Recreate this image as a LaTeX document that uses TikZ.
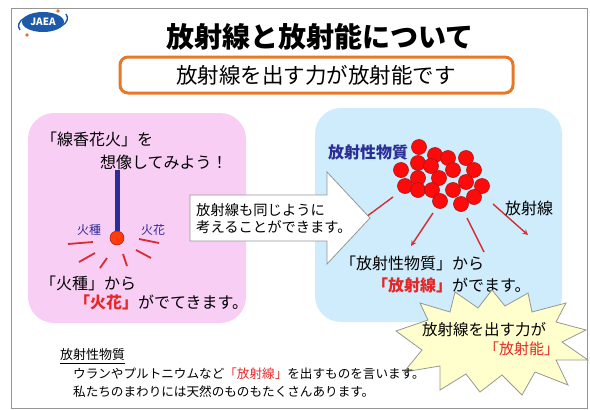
\documentclass[tikz,border=0pt]{standalone}
\usepackage{fontspec}
\setmainfont{Noto Sans CJK JP}
\usetikzlibrary{arrows}

\definecolor{pinkbg}{RGB}{249,206,245}
\definecolor{bluebg}{RGB}{206,236,251}
\definecolor{framegray}{RGB}{150,150,150}
\definecolor{boxorange}{RGB}{230,120,40}
\definecolor{navy}{RGB}{45,45,150}
\definecolor{textred}{RGB}{228,40,40}
\definecolor{linered}{RGB}{215,45,50}
\definecolor{ballred}{RGB}{255,10,10}
\definecolor{balledge}{RGB}{170,20,20}
\definecolor{sparkred}{RGB}{255,60,10}
\definecolor{starfill}{RGB}{255,255,205}
\definecolor{logoblue}{RGB}{30,90,170}
\definecolor{logoorange}{RGB}{235,110,50}

\tikzset{
  txt/.style={anchor=west, inner sep=0pt},
  big/.style={txt, font=\fontsize{16}{16}\selectfont},
  small/.style={txt, font=\fontsize{12.6}{12.6}\selectfont},
  ball/.style={fill=ballred, draw=balledge, line width=.6pt},
  ray/.style={linered, line width=1.4pt},
  spark/.style={linered, line width=1.8pt},
}
\newcommand{\hot}[1]{\textcolor{textred}{\bfseries #1}}

\begin{document}
\begin{tikzpicture}[x=1pt,y=-1pt]
  \useasboundingbox (0,0) rectangle (590,410);
  \draw[framegray, line width=.6pt] (11,8) rectangle (587,408);

  % logo
  \fill[logoblue] (43,22) ellipse (21pt and 10pt);
  \draw[logoblue, line width=1.4pt] (20,30) arc (200:100:24pt and 12pt);
  \draw[logoblue, line width=1.4pt] (66,14) arc (20:-80:24pt and 12pt);
  \fill[logoorange] (58,11) circle (1.8pt);
  \fill[logoorange] (27,35) circle (1.8pt);
  \node[white, font=\bfseries\fontsize{10}{10}\selectfont] (logo) at (43,22) {JAEA};

  % title and key sentence
  \node[font=\bfseries\fontsize{28}{28}\selectfont] (title) at (320,37) {放射線と放射能について};
  \draw[boxorange, line width=3pt, rounded corners=8pt] (120,57) rectangle (513,93);
  \node[font=\fontsize{21.5}{21.5}\selectfont] (key) at (316,75) {放射線を出す力が放射能です};

  % two panels
  \fill[pinkbg, rounded corners=26pt] (28,113) rectangle (246,323);
  \fill[bluebg, rounded corners=26pt] (315,108) rectangle (562,322);

  % senko hanabi
  \node[big] (imagine1) at (41,139) {「線香花火」を};
  \node[big] (imagine2) at (100,162) {想像してみよう！};
  \coordinate (sticktop) at (117,170);
  \node[circle, fill=sparkred, draw=balledge, line width=.5pt, minimum size=14pt, inner sep=0pt] (hidane) at (117,238) {};
  \draw[navy, line width=5pt] (sticktop) -- (hidane.north);
  \node[small, navy, font=\fontsize{12}{12}\selectfont] (hidanelbl) at (77,230) {火種};
  \node[small, navy, font=\fontsize{12}{12}\selectfont] (hibanalbl) at (141,230) {火花};
  \draw[spark] (68,244) -- (93,242);
  \draw[spark] (79,262) -- (95,253);
  \draw[spark] (100,268) -- (107,258);
  \draw[spark] (123,254) -- (127,266);
  \draw[spark] (136,250) -- (151,258);
  \draw[spark] (139,239) -- (159,243);
  \node[big] (from1) at (40,283) {「火種」から};
  \node[big] (from2) at (74,302) {\hot{「火花」}がでてきます。};

  % rays out of the source
  \coordinate (r1s) at (393,197); \coordinate (r1e) at (366,217);
  \coordinate (r2s) at (433,213); \coordinate (r2e) at (411,246);
  \coordinate (r3s) at (467,218); \coordinate (r3e) at (484,252);
  \coordinate (r4s) at (493,204); \coordinate (r4e) at (528,235);
  \draw[ray] (r1s) -- (r1e);
  \draw[ray, -stealth] (r2s) -- (r2e);
  \draw[ray] (r3s) -- (r3e);
  \draw[ray, -stealth] (r4s) -- (r4e);

  % big arrow
  \draw[fill=white, draw=framegray, line width=.8pt]
    (190,195) -- (327,195) -- (327,172) -- (370,218) -- (327,264) -- (327,241) -- (190,241) -- cycle;
  \node[txt, font=\fontsize{14.3}{14.3}\selectfont] (same1) at (196,210) {放射線も同じように};
  \node[txt, font=\fontsize{14.3}{14.3}\selectfont] (same2) at (196,227) {考えることができます。};

  % radioactive material
  \node[big, navy, font=\bfseries\fontsize{16}{16}\selectfont] (material) at (328,152) {放射性物質};
  \foreach \x/\y in {401/170,405/186,418/163,418/178,418/190,435/155,431/166,
                     448/158,439/178,432/190,466/158,453/170,453/190,440/201,
                     474/170,466/182,482/186,474/197,461/204,419/147}
    \draw[ball] (\x,\y) circle (7.5pt);
  \node[big] (raylbl) at (505,208) {放射線};
  \node[big] (out1) at (340,263) {「放射性物質」から};
  \node[big] (out2) at (372,285) {\hot{「放射線」}がでます。};

  % starburst
  \draw[fill=starfill, draw=framegray, line width=.8pt]
    (396,331) -- (428,320) -- (420,303) -- (450,312) -- (455,292) -- (478,308)
    -- (492,290) -- (505,306) -- (528,293) -- (532,312) -- (566,303) -- (556,322)
    -- (586,330) -- (562,342) -- (588,360) -- (556,360) -- (568,385) -- (535,372)
    -- (522,395) -- (502,375) -- (480,392) -- (466,374) -- (440,390) -- (440,366)
    -- (404,372) -- (422,350) -- cycle;
  \node[txt, font=\fontsize{15.5}{15.5}\selectfont] (power1) at (422,330) {放射線を出す力が};
  \node[txt, font=\fontsize{15}{15}\selectfont] (power2) at (484,349) {\textcolor{textred}{「放射能」}};

  % footnote
  \node[small, font=\fontsize{13}{13}\selectfont] (note) at (60,355) {放射性物質};
  \draw[line width=.6pt] ([yshift=-2pt]note.south west) -- ([yshift=-2pt]note.south east);
  \node[small] (note1) at (73,374) {ウランやプルトニウムなど\textcolor{textred}{「放射線」}を出すものを言います。};
  \node[small] (note2) at (73,392) {私たちのまわりには天然のものもたくさんあります。};
\end{tikzpicture}
\end{document}
